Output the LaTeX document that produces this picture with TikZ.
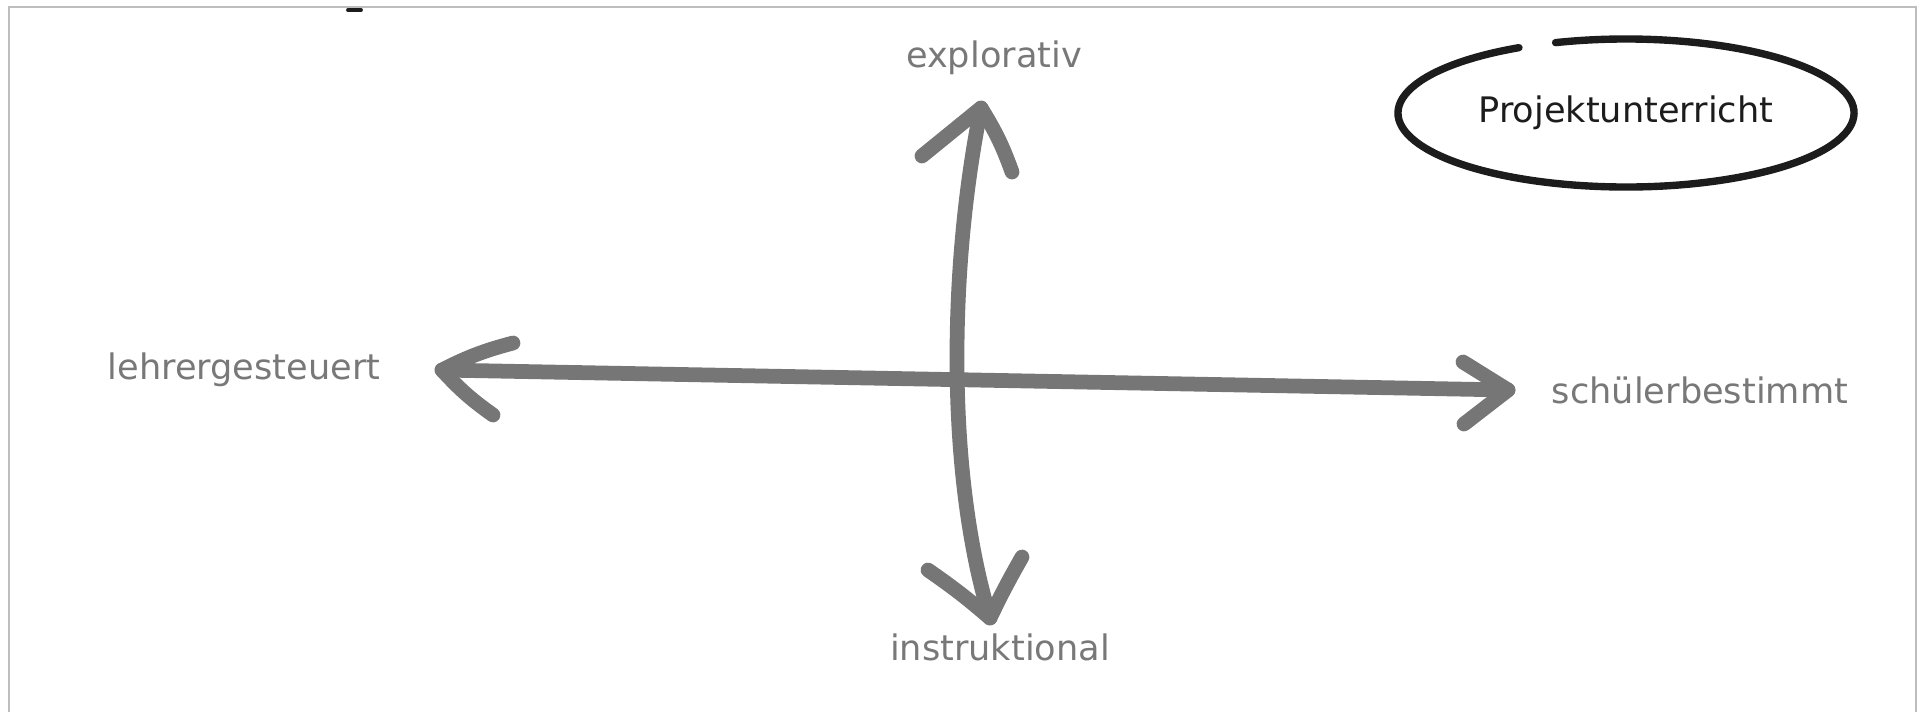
\documentclass[tikz,border=0pt]{standalone}
\usepackage{fontspec}
\setmainfont{DejaVu Sans}
\usetikzlibrary{positioning,calc}
\definecolor{axisgray}{RGB}{118,118,118}
\definecolor{labelgray}{RGB}{120,120,120}
\definecolor{framegray}{RGB}{190,190,190}
\definecolor{inkblack}{RGB}{28,28,28}
\tikzset{
  axis/.style={draw=axisgray,line width=4.2pt,line cap=round,line join=round},
  pole/.style={text=labelgray,font=\fontsize{10}{12}\selectfont,inner sep=0pt},
}

\begin{document}
\begin{tikzpicture}
  \useasboundingbox (0,0) rectangle (19.17,7.12);
  \draw[framegray,line width=0.6pt] (0.09,0) -- (0.09,7.05) -- (19.16,7.05) -- (19.16,0);
  \draw[inkblack,line width=1.1pt,line cap=round] (3.48,7.02) -- (3.61,7.02);

  \node[pole] (expl) at (9.94,6.54) {explorativ};
  \node[pole] (instr) at (10.00,0.65) {instruktional};
  \node[pole] (lehrer) at (2.44,3.42) {lehrergesteuert};
  \node[pole] (schueler) at (17.00,3.22) {schülerbestimmt};
  \node[pole,text=inkblack] (proj) at (16.26,5.99) {Projektunterricht};

  \coordinate (tN) at (9.81,6.04);
  \coordinate (tS) at (9.90,0.94);
  \coordinate (tW) at (4.42,3.42);
  \coordinate (tE) at (15.08,3.22);

  \draw[axis] (tN) .. controls (9.50,4.52) and (9.45,2.42) .. (tS);
  \draw[axis] (9.22,5.56) -- (tN) to[bend left=6] (10.12,5.40);
  \draw[axis] (9.28,1.42) to[bend left=3] (tS) to[bend left=2] (10.22,1.55);

  \draw[axis] (tW) -- (tE);
  \draw[axis] (5.13,3.69) to[bend right=6] (tW) to[bend right=6] (4.93,2.97);
  \draw[axis] (14.63,3.50) -- (tE) -- (14.64,2.88);

  \draw[inkblack,line width=2.1pt,line cap=round]
    ([shift={(118:2.28 and 0.74)}]proj.center)
    arc[start angle=118,end angle=468,x radius=2.28,y radius=0.74];
\end{tikzpicture}
\end{document}
